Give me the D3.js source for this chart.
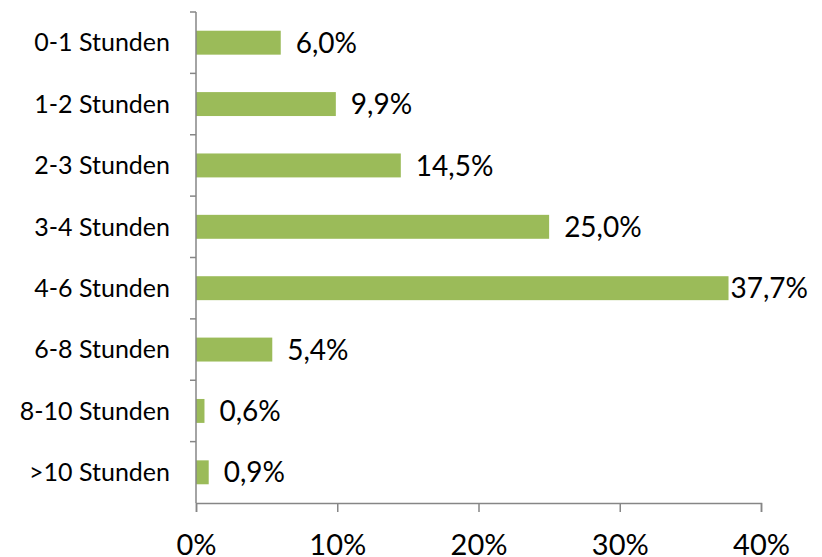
<!DOCTYPE html>
<html>
<head>
<meta charset="utf-8">
<script src="https://cdn.jsdelivr.net/npm/d3@7"></script>
<style>
  body { margin: 0; background: #fff; }
  text { font-family: Lato, "Open Sans", sans-serif; fill: #000; }
</style>
</head>
<body>
<svg id="chart"></svg>
<script>
const width = 822;
const height = 557;

const categories = ['0-1 Stunden','1-2 Stunden','2-3 Stunden','3-4 Stunden','4-6 Stunden','6-8 Stunden','8-10 Stunden','>10 Stunden'];
const values = [6.0, 9.9, 14.5, 25.0, 37.7, 5.4, 0.6, 0.9];
const ticks = [0, 10, 20, 30, 40];

const svg = d3.select('#chart').attr('width', width).attr('height', height);

const margin = { top: 12, right: 61, bottom: 54, left: 196 };
const innerW = width - margin.left - margin.right;
const innerH = height - margin.top - margin.bottom;

const g = svg.append('g').attr('transform', `translate(${margin.left},${margin.top})`);

const x = d3.scaleLinear().domain([0, 40]).range([0, innerW]);
const y = d3.scaleBand().domain(categories).range([0, innerH]).paddingInner(0.61).paddingOuter(0.305);
const yb = d3.scaleBand().domain(categories).range([0, innerH]);

// bars
g.selectAll('.bar')
  .data(values)
  .enter()
  .append('rect')
  .attr('class', 'bar')
  .attr('x', 0)
  .attr('y', (d, i) => y(categories[i]))
  .attr('width', d => x(d))
  .attr('height', y.bandwidth())
  .attr('fill', '#9BBB59');

// x axis
const xAxis = g.append('g')
  .attr('transform', `translate(0,${innerH})`)
  .call(d3.axisBottom(x).tickValues(ticks).tickSize(9).tickPadding(22).tickFormat(d => d + '%'));
xAxis.select('.domain').attr('stroke', '#868686').attr('stroke-width', 1.5);
xAxis.selectAll('.tick line').attr('stroke', '#868686').attr('stroke-width', 1.5);
xAxis.selectAll('text').style('font-size', '29px').style('font-family', 'Lato');

// y axis: ticks at band boundaries
g.append('line')
  .attr('x1', 0).attr('x2', 0).attr('y1', 0).attr('y2', innerH)
  .attr('stroke', '#868686').attr('stroke-width', 1.5);
g.selectAll('.ytick')
  .data(categories)
  .enter()
  .append('line')
  .attr('x1', -6).attr('x2', 0)
  .attr('y1', d => yb(d)).attr('y2', d => yb(d))
  .attr('stroke', '#868686').attr('stroke-width', 1.5);

// category labels
g.selectAll('.cat')
  .data(categories)
  .enter()
  .append('text')
  .attr('x', -26)
  .attr('y', d => yb(d) + yb.bandwidth() / 2)
  .attr('dy', '0.35em')
  .attr('text-anchor', 'end')
  .style('font-size', '25px')
  .text(d => d);

// value labels
g.selectAll('.val')
  .data(values)
  .enter()
  .append('text')
  .attr('class', 'val')
  .attr('y', (d, i) => yb(categories[i]) + yb.bandwidth() / 2)
  .attr('dy', '0.36em')
  .style('font-size', '28px')
  .text(d => d.toFixed(1).replace('.', ',') + '%')
  .attr('x', function(d) {
    const w = this.getComputedTextLength();
    return Math.min(x(d) + 15, innerW + margin.right - 14 - w);
  });
</script>
</body>
</html>
